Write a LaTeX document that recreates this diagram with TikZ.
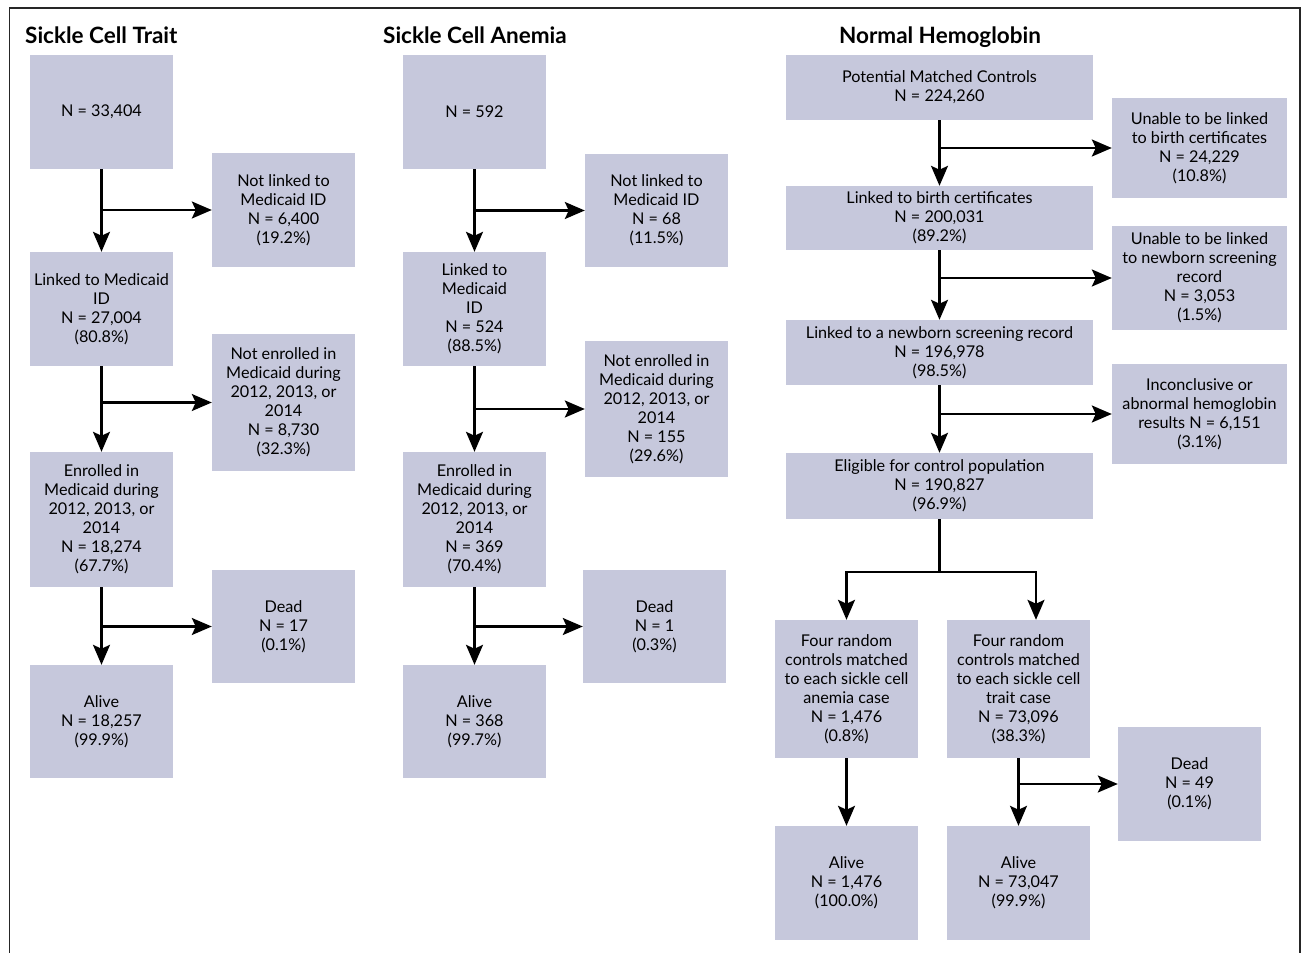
\documentclass[tikz,border=0pt]{standalone}
\usepackage{fontspec}
\setmainfont{Lato}
\usepackage{tikz}
\usetikzlibrary{arrows.meta,calc}
\definecolor{boxfill}{RGB}{198,200,220}

\begin{document}
\begin{tikzpicture}[x=1pt,y=-1pt]
	\tikzset{box/.style={fill=boxfill,align=center,inner sep=2pt,minimum width=143pt,
			font=\fontsize{16.2}{19}\selectfont}}
	\tikzset{widebox/.style={box,minimum width=307pt}}
	\tikzset{sidebox/.style={box,minimum width=175pt}}
	\tikzset{title/.style={font=\fontsize{22.5}{24}\selectfont\bfseries,inner sep=0pt}}
	\tikzset{arr/.style={line width=2.3pt,-{Stealth[length=20pt,width=17pt,inset=4pt]}}}
	\useasboundingbox (0,0) rectangle (1304,953);
	\draw[line width=1.8pt,black!85] (9.5,953) -- (9.5,8) -- (1300,8) -- (1300,953);
	% titles
	\node[title,anchor=base west] (traitT) at (25,43) {Sickle Cell Trait};
	\node[title,anchor=base west] (anemiaT) at (383,43) {Sickle Cell Anemia};
	\node[title,anchor=base] (normalT) at (940,43) {Normal Hemoglobin};
	% sickle cell trait
	\node[box,minimum height=114pt] (A1) at (101.5,112) {N = 33,404};
	\node[box,minimum height=114pt] (A2) at (283.5,210) {Not linked to\\Medicaid ID\\N = 6,400\\(19.2\%)};
	\node[box,minimum height=114pt] (A3) at (101.5,309) {Linked to Medicaid\\ID\\N = 27,004\\(80.8\%)};
	\node[box,minimum height=137pt] (A4) at (283.5,402.5) {Not enrolled in\\Medicaid during\\2012, 2013, or\\2014\\N = 8,730\\(32.3\%)};
	\node[box,minimum height=135pt] (A5) at (101.5,519.5) {Enrolled in\\Medicaid during\\2012, 2013, or\\2014\\N = 18,274\\(67.7\%)};
	\node[box,minimum height=113pt] (A6) at (283.5,626.5) {Dead\\N = 17\\(0.1\%)};
	\node[box,minimum height=113pt] (A7) at (101.5,721.5) {Alive\\N = 18,257\\(99.9\%)};
	% sickle cell anemia
	\node[box,minimum height=114pt] (B1) at (474.5,112) {N = 592};
	\node[box,minimum height=113pt] (B2) at (656.5,210.5) {Not linked to\\Medicaid ID\\N = 68\\(11.5\%)};
	\node[box,minimum height=114pt] (B3) at (474.5,309) {Linked to\\Medicaid\\ID\\N = 524\\(88.5\%)};
	\node[box,minimum height=136pt] (B4) at (656.5,409) {Not enrolled in\\Medicaid during\\2012, 2013, or\\2014\\N = 155\\(29.6\%)};
	\node[box,minimum height=135pt] (B5) at (474.5,519.5) {Enrolled in\\Medicaid during\\2012, 2013, or\\2014\\N = 369\\(70.4\%)};
	\node[box,minimum height=113pt] (B6) at (654.5,626.5) {Dead\\N = 1\\(0.3\%)};
	\node[box,minimum height=113pt] (B7) at (474.5,721.5) {Alive\\N = 368\\(99.7\%)};
	% normal hemoglobin
	\node[widebox,minimum height=65pt] (C1) at (939.5,87.5) {Potential Matched Controls\\N = 224,260};
	\node[sidebox,minimum height=100pt] (C2) at (1199.5,148) {Unable to be linked\\to birth certificates\\N = 24,229\\(10.8\%)};
	\node[widebox,minimum height=64pt] (C3) at (939.5,218) {Linked to birth certificates\\N = 200,031\\(89.2\%)};
	\node[sidebox,minimum height=104pt] (C4) at (1199.5,278) {Unable to be linked\\to newborn screening\\record\\N = 3,053\\(1.5\%)};
	\node[widebox,minimum height=65pt] (C5) at (939.5,352.5) {Linked to a newborn screening record\\N = 196,978\\(98.5\%)};
	\node[sidebox,minimum height=100pt] (C6) at (1199.5,414) {Inconclusive or\\abnormal hemoglobin\\results N = 6,151\\(3.1\%)};
	\node[widebox,minimum height=66pt] (C7) at (939.5,486) {Eligible for control population\\N = 190,827\\(96.9\%)};
	\node[box,minimum height=138pt] (C8) at (846.5,689) {Four random\\controls matched\\to each sickle cell\\anemia case\\N = 1,476\\(0.8\%)};
	\node[box,minimum height=138pt] (C9) at (1018.5,689) {Four random\\controls matched\\to each sickle cell\\trait case\\N = 73,096\\(38.3\%)};
	\node[box,minimum height=114pt] (C10) at (1189.5,784) {Dead\\N = 49\\(0.1\%)};
	\node[box,minimum height=114pt] (C11) at (846.5,883) {Alive\\N = 1,476\\(100.0\%)};
	\node[box,minimum height=114pt] (C12) at (1018.5,883) {Alive\\N = 73,047\\(99.9\%)};
	% connectors
	\foreach \top/\side/\bot in {A1/A2/A3,A3/A4/A5,A5/A6/A7,B1/B2/B3,B3/B4/B5,B5/B6/B7,
			C1/C2/C3,C3/C4/C5,C5/C6/C7,C9/C10/C12}{
		\draw[arr] (\top.south) -- (\bot.north);
		\draw[arr] (\top.south |- \side.west) -- (\side.west);
	}
	\coordinate (split) at (C7.south |- 0,572);
	\draw[line width=2.3pt] (C7.south) -- (split);
	\draw[arr] (split) -| (C8.north);
	\draw[arr] (split) -| ([xshift=17.5pt]C9.north);
	\draw[arr] (C8.south) -- (C11.north);
\end{tikzpicture}
\end{document}
